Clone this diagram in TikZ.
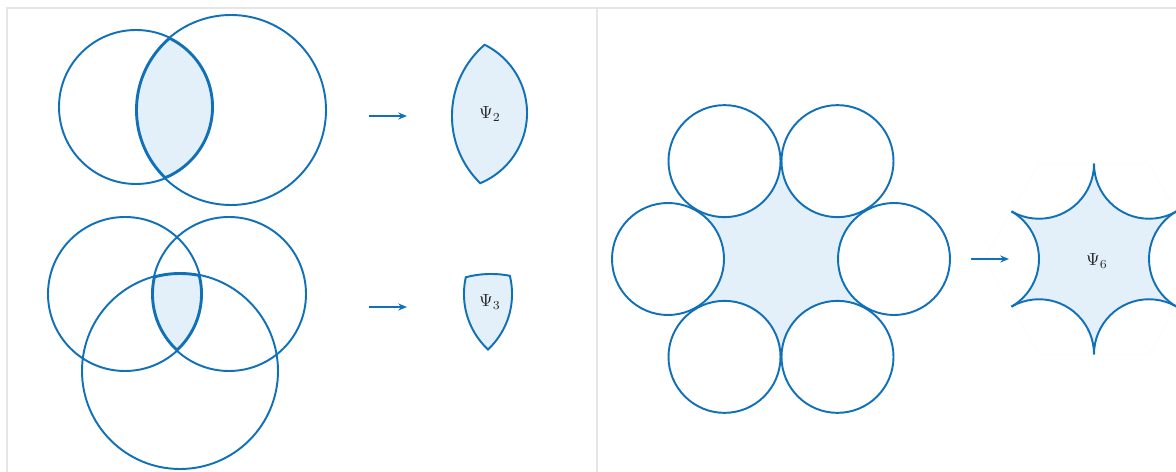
\documentclass[tikz,border=0pt]{standalone}
\usetikzlibrary{arrows.meta}
\definecolor{venn}{RGB}{16,112,184}
\definecolor{vennfill}{RGB}{227,240,249}
\definecolor{framegray}{RGB}{230,230,230}
\begin{document}
\begin{tikzpicture}[x=0.02cm,y=-0.02cm,
    ring/.style={draw=venn,line width=1.1pt},
    edge/.style={draw=venn,line width=2.2pt},
    region/.style={fill=vennfill},
    psilabel/.style={text=black!85},
    maps/.style={draw=venn,line width=1.1pt,-{Stealth[length=5pt,width=4pt]}}]
  \useasboundingbox (0,0) rectangle (1176,472);

  % Frame
  \draw[framegray,line width=1.2pt] (7,490) -- (7,8) -- (1190,8);
  \draw[framegray,line width=0.7pt] (597,8) -- (597,490);

  % Two circles and their lens
  \begin{scope}
    \clip (136,107) circle (77);
    \clip (231,110) circle (95);
    \fill[region] (136,107) circle (77);
    \draw[edge] (136,107) circle (77) (231,110) circle (95);
  \end{scope}
  \draw[ring] (136,107) circle (77);
  \draw[ring] (231,110) circle (95);

  % Lens alone
  \begin{scope}[shift={(315,6)}]
    \clip (136,107) circle (77);
    \clip (231,110) circle (95);
    \fill[region] (136,107) circle (77);
    \draw[edge] (136,107) circle (77) (231,110) circle (95);
  \end{scope}
  \node[psilabel] (psi2) at (490,114) {$\Psi_2$};

  % Three circles and their common part
  \begin{scope}
    \clip (125,294) circle (77);
    \clip (229,294) circle (77);
    \clip (180,371) circle (98);
    \fill[region] (180,371) circle (98);
    \draw[edge] (125,294) circle (77) (229,294) circle (77) (180,371) circle (98);
  \end{scope}
  \draw[ring] (125,294) circle (77);
  \draw[ring] (229,294) circle (77);
  \draw[ring] (180,371) circle (98);

  % Common part alone
  \begin{scope}[shift={(311,0)}]
    \clip (125,294) circle (77);
    \clip (229,294) circle (77);
    \clip (180,371) circle (98);
    \fill[region] (180,371) circle (98);
    \draw[edge] (125,294) circle (77) (229,294) circle (77) (180,371) circle (98);
  \end{scope}
  \node[psilabel] (psi3) at (490,302) {$\Psi_3$};

  % Six circles round a hole
  \begin{scope}[shift={(781,259)}]
    \fill[region] (0:113) -- (60:113) -- (120:113) -- (180:113) -- (240:113) -- (300:113) -- cycle;
    \foreach \a in {0,60,...,300}
      \filldraw[ring,fill=white] (\a:113) circle (56);
  \end{scope}

  % Hole alone
  \begin{scope}[shift={(1094,259)}]
    \clip (0:110) -- (60:110) -- (120:110) -- (180:110) -- (240:110) -- (300:110) -- cycle;
    \fill[region,even odd rule] (0:110) -- (60:110) -- (120:110) -- (180:110) -- (240:110) -- (300:110) -- cycle
      (0:110) circle (55) (60:110) circle (55) (120:110) circle (55)
      (180:110) circle (55) (240:110) circle (55) (300:110) circle (55);
    \foreach \a in {0,60,...,300}
      \draw[ring] (\a:110) circle (55);
  \end{scope}
  \node[psilabel] (psi6) at (1097,261) {$\Psi_6$};

  % Arrows
  \coordinate (m2a) at (369,116);
  \coordinate (m2b) at (407,116);
  \coordinate (m3a) at (369,307);
  \coordinate (m3b) at (407,307);
  \coordinate (m6a) at (971,259);
  \coordinate (m6b) at (1009,259);
  \draw[maps] (m2a) -- (m2b);
  \draw[maps] (m3a) -- (m3b);
  \draw[maps] (m6a) -- (m6b);
\end{tikzpicture}
\end{document}
